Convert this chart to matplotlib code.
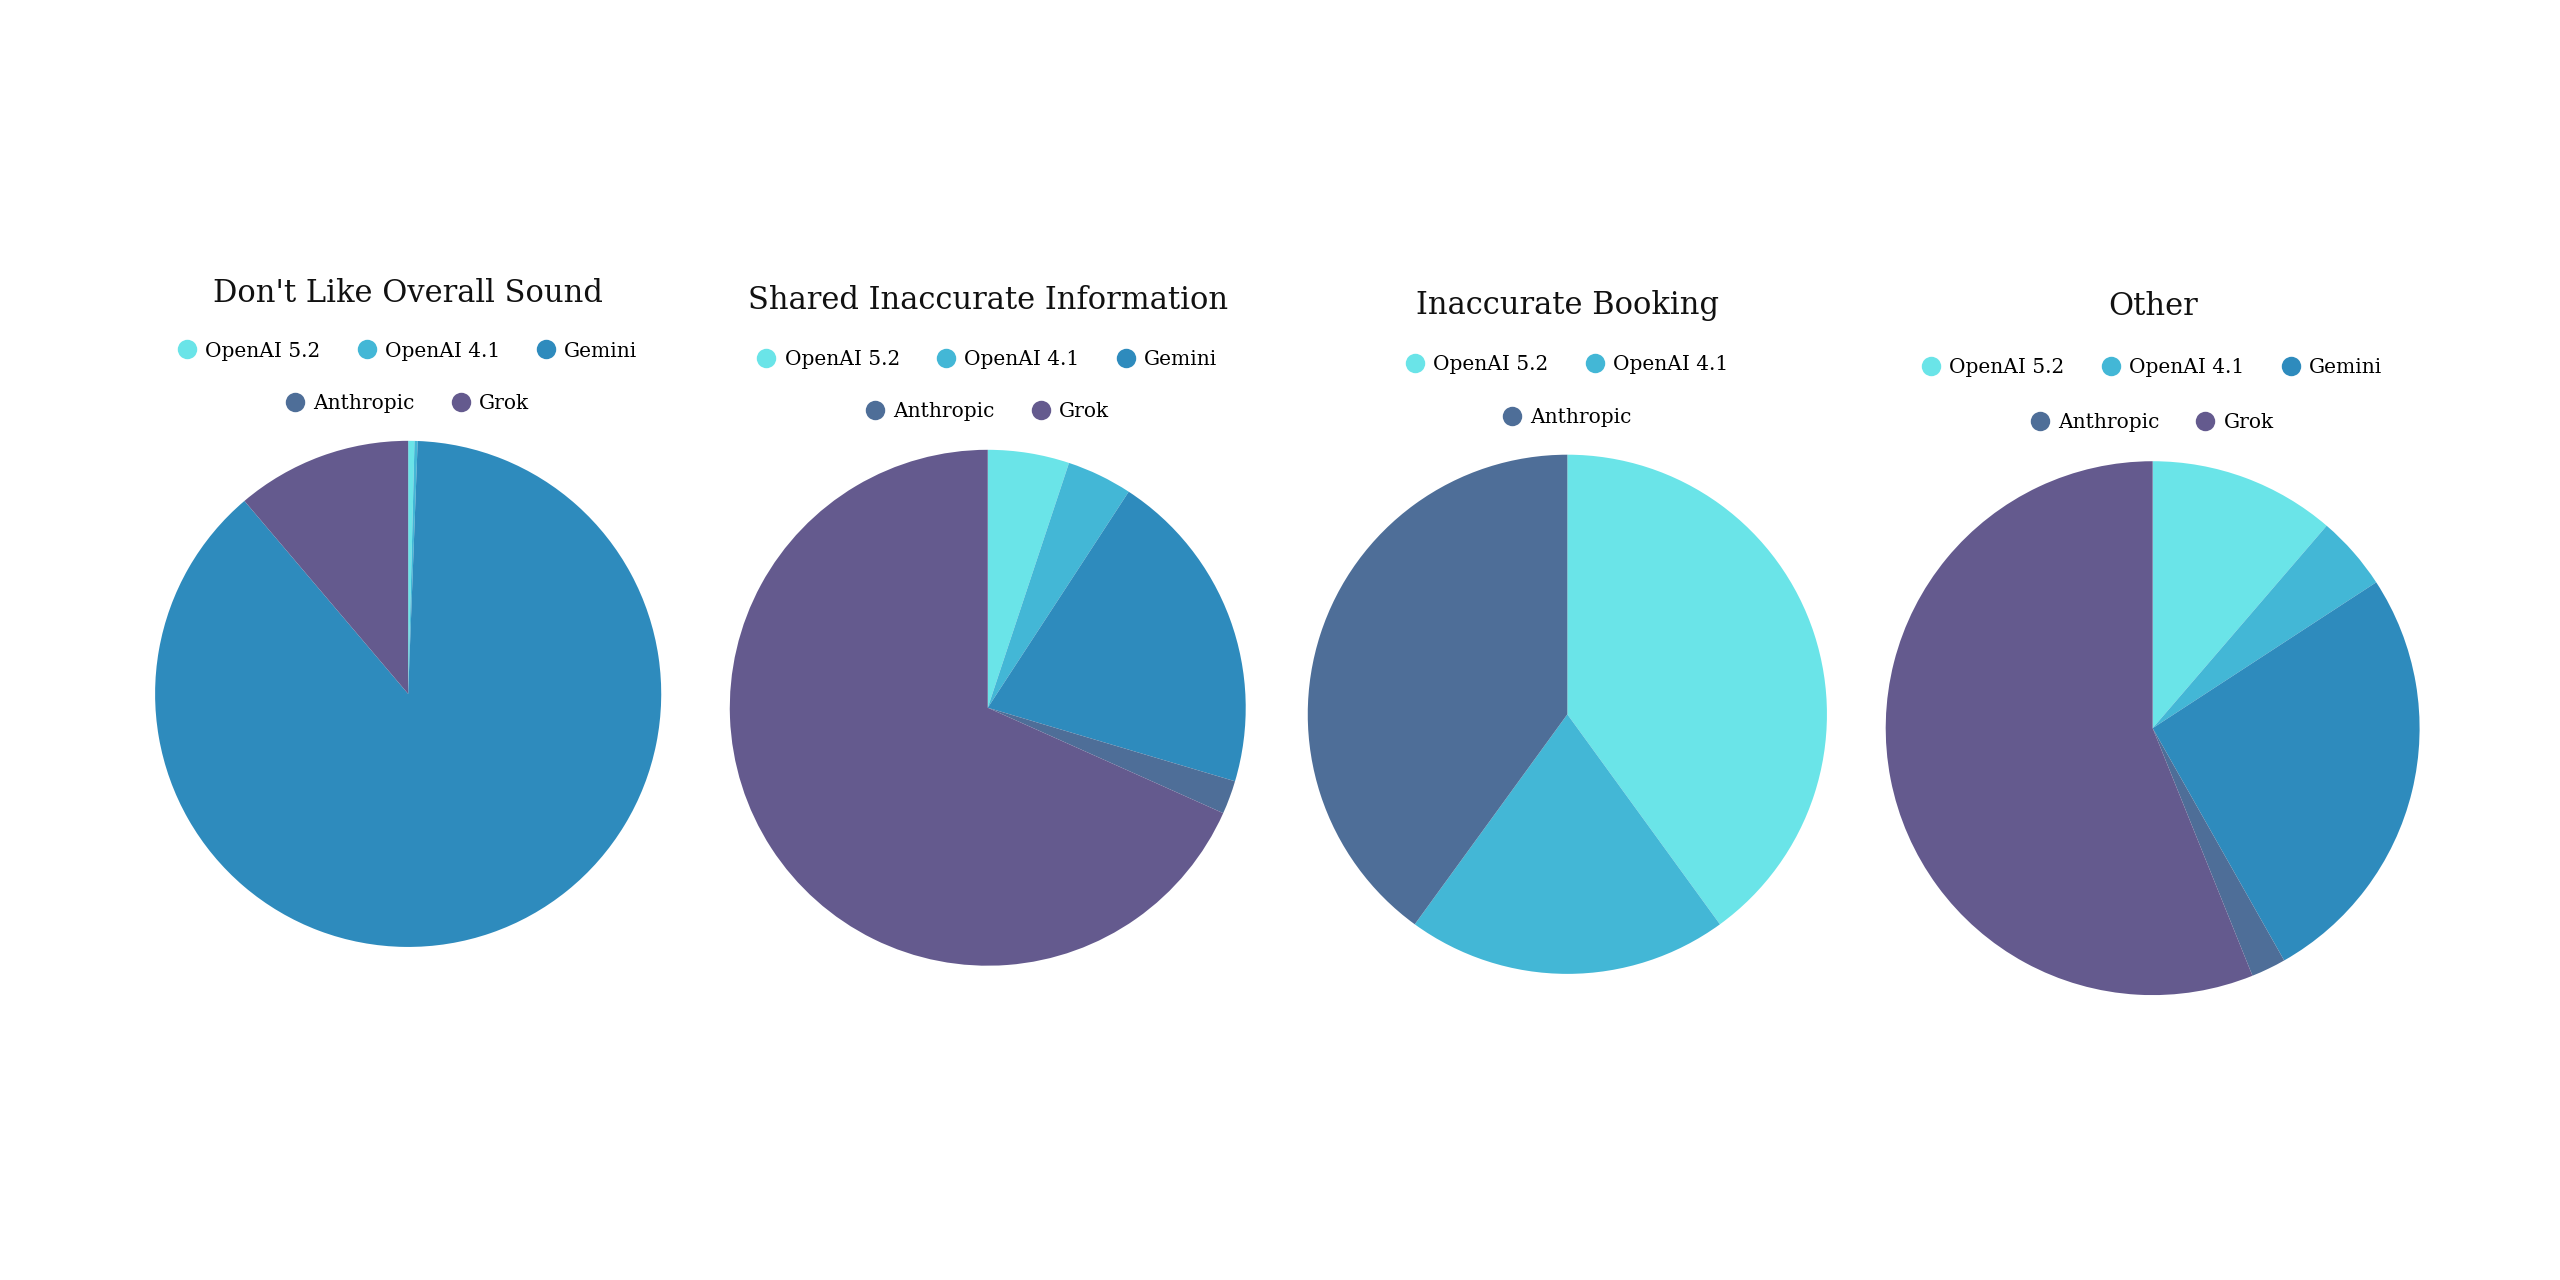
import matplotlib
matplotlib.use("Agg")
import matplotlib.pyplot as plt
from matplotlib.lines import Line2D

plt.rcParams['font.family'] = ['DejaVu Serif']

models = ["OpenAI 5.2", "OpenAI 4.1", "Gemini", "Anthropic", "Grok"]
colors = ["#6ae4e8", "#43b7d6", "#2e8bbd", "#4e6e98", "#645a8e"]

titles = ["Don't Like Overall Sound", "Shared Inaccurate Information",
          "Inaccurate Booking", "Other"]

# share of each model (%)
sound = [0.4, 0.2, 88.2, 0.0, 11.2]
inaccurate_info = [5.1, 4.1, 20.4, 2.1, 68.3]
booking = [40.0, 20.0, 0.0, 40.0, 0.0]
other = [11.3, 4.5, 26.0, 2.1, 56.1]
all_values = [sound, inaccurate_info, booking, other]

# legend rows for each pie
legend_rows = [
    [["OpenAI 5.2", "OpenAI 4.1", "Gemini"], ["Anthropic", "Grok"]],
    [["OpenAI 5.2", "OpenAI 4.1", "Gemini"], ["Anthropic", "Grok"]],
    [["OpenAI 5.2", "OpenAI 4.1"], ["Anthropic"]],
    [["OpenAI 5.2", "OpenAI 4.1", "Gemini"], ["Anthropic", "Grok"]],
]

# layout in reference pixel units (1568 x 784 view)
W, H = 1568.0, 784.0
centers = [(250, 425), (605, 433.5), (960, 437.5), (1318.5, 446)]
radii = [155, 158, 159, 163.5]
title_y = [180, 184, 187, 188]
leg_y = [(215, 247), (220, 252), (223, 256), (225, 259)]

fig = plt.figure(figsize=(25.6, 12.8), dpi=100)

for i in range(4):
    cx, cy = centers[i]
    r = radii[i]
    ax = fig.add_axes([(cx - r) / W, 1 - (cy + r) / H, 2 * r / W, 2 * r / H])
    ax.pie(all_values[i], colors=colors, startangle=90, counterclock=False,
           radius=1, wedgeprops=dict(linewidth=0))
    ax.set_xlim(-1, 1)
    ax.set_ylim(-1, 1)
    ax.set_aspect('auto')
    ax.axis('off')

    fig.text(cx / W, 1 - title_y[i] / H, titles[i], ha='center', va='center',
             fontsize=22, color='#111111')

    for row, y in zip(legend_rows[i], leg_y[i]):
        handles = [Line2D([], [], linestyle='none', marker='o', markersize=14,
                          markerfacecolor=colors[models.index(m)],
                          markeredgecolor='none') for m in row]
        fig.legend(handles, row, loc='center', bbox_to_anchor=(cx / W, 1 - y / H),
                   ncol=len(row), frameon=False, fontsize=14.5,
                   handlelength=0.8, handletextpad=0.5, columnspacing=1.9,
                   borderpad=0, borderaxespad=0)

fig.savefig("out.png", dpi=100, facecolor='white')
